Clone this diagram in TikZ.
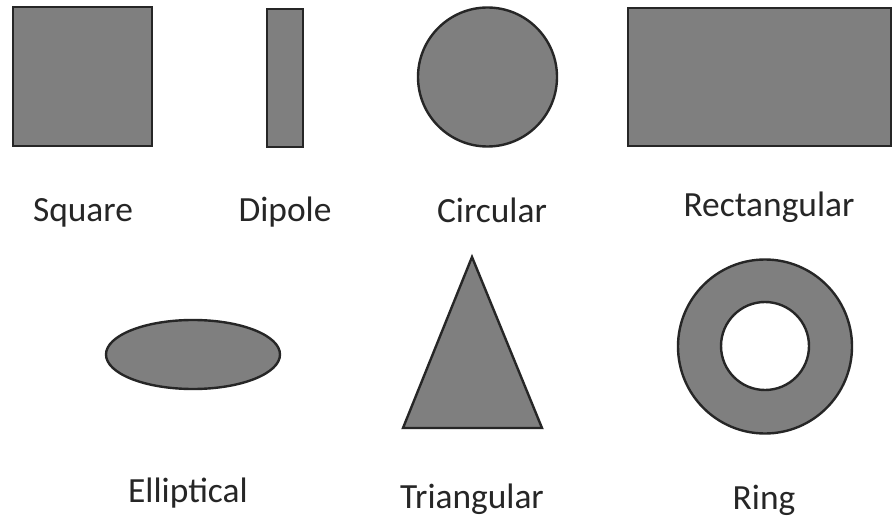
\documentclass[tikz,border=0pt]{standalone}
\usepackage{fontspec}
\setmainfont{Carlito}
\usetikzlibrary{shapes.geometric}
\definecolor{patchgray}{HTML}{7F7F7F}
\definecolor{edgegray}{HTML}{262626}

\begin{document}
\begin{tikzpicture}[
  x=0.5pt, y=-0.5pt,
  patch/.style={
    draw=edgegray,
    fill=patchgray,
    line width=1.2pt,
    inner sep=0pt
  },
  caption/.style={
    anchor=base,
    inner sep=0pt,
    text=black!85,
    font=\fontsize{17.7}{21}\selectfont
  }
]
  \fill[white] (0,0) rectangle (893,518);
  \useasboundingbox (0,0) rectangle (893,518);

  % top row
  \node[patch, rectangle, minimum width=69.5pt, minimum height=69.5pt] (square) at (82.5,76.5) {};
  \node[patch, rectangle, minimum width=18pt, minimum height=69pt] (dipole) at (285,78) {};
  \node[patch, circle, minimum size=69.5pt] (circular) at (487.5,77) {};
  \node[patch, rectangle, minimum width=131.5pt, minimum height=69pt] (rect) at (759.5,77) {};

  \node[caption] (l-square) at (83,221) {Square};
  \node[caption] (l-dipole) at (285,221) {Dipole};
  \node[caption] (l-circular) at (492,222) {Circular};
  \node[caption] (l-rect) at (769,217) {Rectangular};

  % bottom row
  \node[patch, ellipse, minimum width=87pt, minimum height=34.5pt] (ellip) at (193,354.5) {};
  \draw[patch] (472,257) coordinate (tri-top) -- (542,428) coordinate (tri-right)
    -- (403,428) coordinate (tri-left) -- cycle;
  \draw[patch, even odd rule] (765,346.5) circle[radius=87] (765,346) circle[radius=44];
  \coordinate (ring) at (765,346.5);

  \node[caption] (l-ellip) at (188,502) {Elliptical};
  \node[caption] (l-tri) at (472,508) {Triangular};
  \node[caption] (l-ring) at (764,509) {Ring};
\end{tikzpicture}
\end{document}
